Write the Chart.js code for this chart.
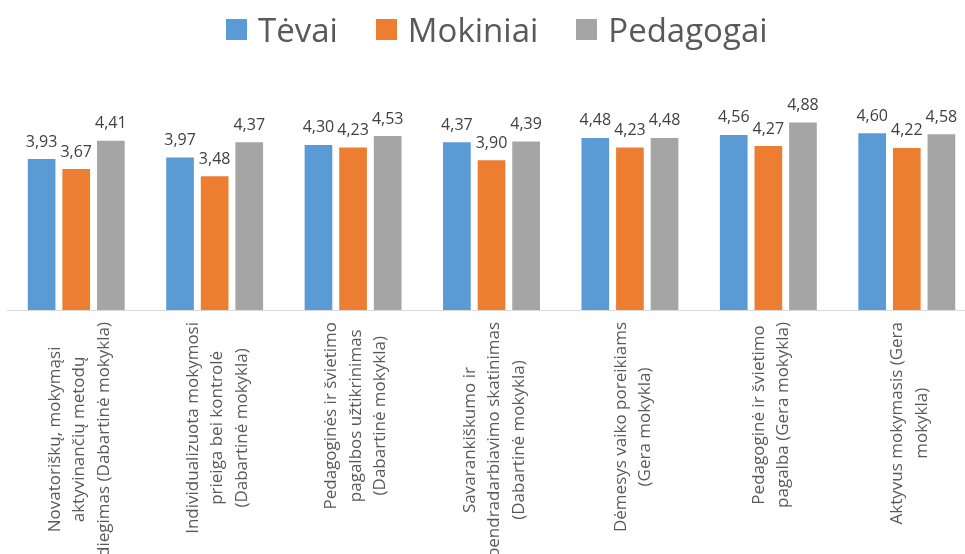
<!DOCTYPE html>
<html>
<head>
<meta charset="utf-8">
<script src="https://cdn.jsdelivr.net/npm/chart.js@4.4.1/dist/chart.umd.min.js"></script>
<style>
  html, body { margin: 0; padding: 0; background: #fff; overflow: hidden; }
  #wrap { position: relative; width: 965px; height: 554px; overflow: hidden; }
  #chart { position: absolute; left: 0; top: 0; }
  #legend { position: absolute; left: 226px; top: 7px; display: flex; align-items: center;
            font-family: 'Open Sans', sans-serif; font-size: 33px; line-height: 45px; color: #595959; }
  .item { display: flex; align-items: center; margin-right: 38px; }
  .box { width: 21px; height: 21px; margin-right: 11px; }
</style>
</head>
<body>
<div id="wrap">
  <canvas id="chart" width="976" height="554"></canvas>
  <div id="legend"></div>
</div>
<script>
const categories = [
  ['Novatoriškų, mokymąsi', 'aktyvinančių metodų', 'diegimas (Dabartinė mokykla)'],
  ['Individualizuota mokymosi', 'prieiga bei kontrolė', '(Dabartinė mokykla)'],
  ['Pedagoginės ir švietimo', 'pagalbos užtikrinimas', '(Dabartinė mokykla)'],
  ['Savarankiškumo ir', 'bendradarbiavimo skatinimas', '(Dabartinė mokykla)'],
  ['Dėmesys vaiko poreikiams', '(Gera mokykla)'],
  ['Pedagoginė ir švietimo', 'pagalba (Gera mokykla)'],
  ['Aktyvus mokymasis (Gera', 'mokykla)']
];
const seriesNames = ['Tėvai', 'Mokiniai', 'Pedagogai'];
const tevai = [3.93, 3.97, 4.30, 4.37, 4.48, 4.56, 4.60];
const mokiniai = [3.67, 3.48, 4.23, 3.90, 4.23, 4.27, 4.22];
const pedagogai = [4.41, 4.37, 4.53, 4.39, 4.48, 4.88, 4.58];
const colors = ['#5B9BD5', '#ED7D31', '#A5A5A5'];

const fmt = v => v.toFixed(2).replace('.', ',');

// value labels above bars
const valueLabels = {
  id: 'valueLabels',
  afterDatasetsDraw(chart) {
    const ctx = chart.ctx;
    ctx.save();
    ctx.font = "16px 'Open Sans', sans-serif";
    ctx.fillStyle = '#404040';
    ctx.textAlign = 'center';
    ctx.textBaseline = 'alphabetic';
    chart.data.datasets.forEach((ds, i) => {
      chart.getDatasetMeta(i).data.forEach((bar, j) => {
        ctx.fillText(fmt(ds.data[j]), bar.x, bar.y - 12.5);
      });
    });
    ctx.restore();
  }
};

// rotated category labels, lines centred like Excel does
const catLabels = {
  id: 'catLabels',
  afterDraw(chart) {
    const ctx = chart.ctx;
    const x = chart.scales.x;
    const pivotY = x.bottom + 12;
    const lh = 24.5;
    ctx.save();
    ctx.font = "17px 'Open Sans', sans-serif";
    ctx.fillStyle = '#595959';
    ctx.textAlign = 'center';
    ctx.textBaseline = 'middle';
    chart.data.labels.forEach((lines, i) => {
      const cx = x.getPixelForValue(i) + 3;
      const maxW = Math.max(...lines.map(l => ctx.measureText(l).width));
      ctx.save();
      ctx.translate(cx, pivotY);
      ctx.rotate(-Math.PI / 2);
      lines.forEach((l, k) => {
        ctx.fillText(l, -maxW / 2, (k - (lines.length - 1) / 2) * lh);
      });
      ctx.restore();
    });
    ctx.restore();
  }
};

new Chart(document.getElementById('chart'), {
  type: 'bar',
  data: {
    labels: categories,
    datasets: [tevai, mokiniai, pedagogai].map((d, i) => ({
      label: seriesNames[i],
      data: d,
      backgroundColor: colors[i],
      categoryPercentage: 0.75,
      barPercentage: 0.8
    }))
  },
  options: {
    responsive: false,
    devicePixelRatio: 1,
    animation: false,
    layout: { padding: { left: 7, right: 0, top: 118, bottom: 244 } },
    plugins: { legend: { display: false }, tooltip: { enabled: false } },
    scales: {
      x: {
        grid: { display: false, drawTicks: false },
        border: { display: true, color: '#D9D9D9', width: 1 },
        ticks: { display: false }
      },
      y: { display: false, min: 0, max: 5 }
    }
  },
  plugins: [valueLabels, catLabels]
});

// legend
const legendEl = document.getElementById('legend');
seriesNames.forEach((name, i) => {
  const item = document.createElement('div');
  item.className = 'item';
  const box = document.createElement('span');
  box.className = 'box';
  box.style.background = colors[i];
  const txt = document.createElement('span');
  txt.textContent = name;
  item.appendChild(box);
  item.appendChild(txt);
  legendEl.appendChild(item);
});
</script>
</body>
</html>
